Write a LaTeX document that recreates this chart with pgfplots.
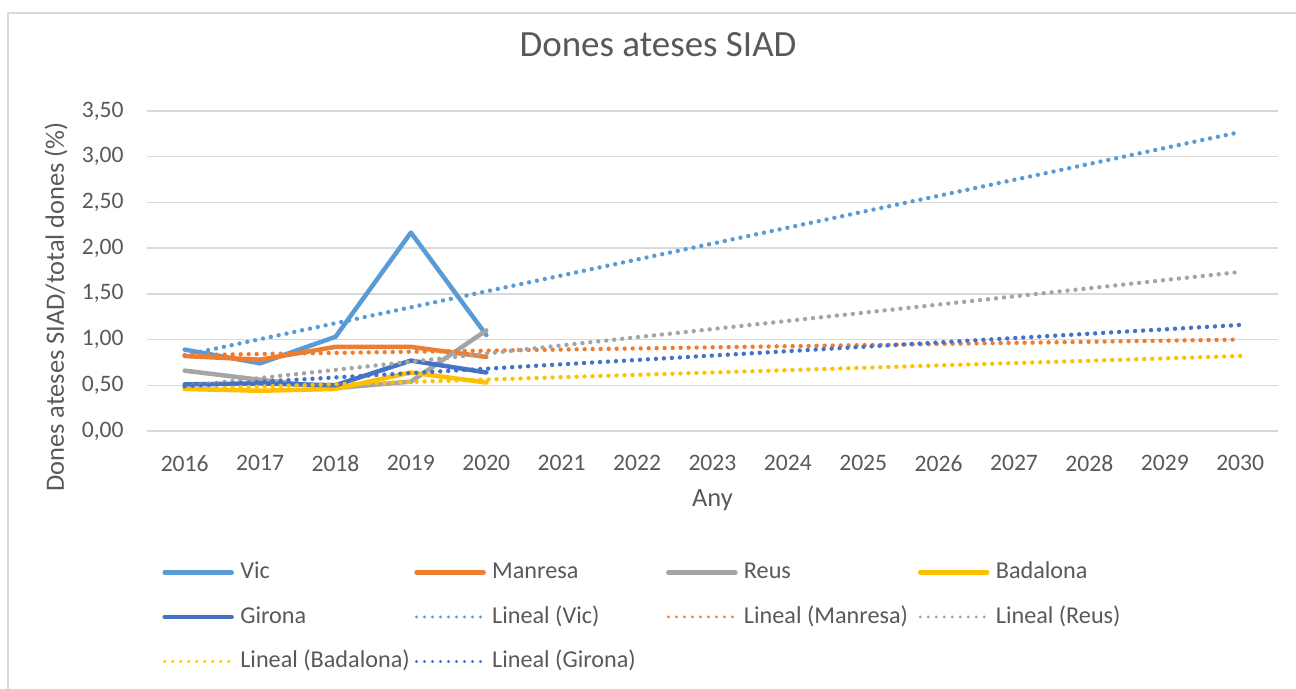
\documentclass[border=0pt]{standalone}
\usepackage{fontspec}
\setmainfont{Carlito}
\usepackage{pgfplots}
\usepackage{pgfplotstable}
\pgfplotsset{compat=1.18}

\definecolor{txt}{HTML}{595959}
\definecolor{grid}{HTML}{D9D9D9}
\definecolor{cVic}{HTML}{5B9BD5}
\definecolor{cMan}{HTML}{ED7D31}
\definecolor{cReu}{HTML}{A5A5A5}
\definecolor{cBad}{HTML}{FFC000}
\definecolor{cGir}{HTML}{4472C4}

% percentatge de dones ateses pel SIAD
\pgfplotstableread{
any  vic  manresa reus badalona girona
2016 0.89 0.82    0.66 0.46     0.51
2017 0.74 0.78    0.56 0.44     0.52
2018 1.03 0.92    0.47 0.46     0.50
2019 2.17 0.92    0.54 0.64     0.77
2020 1.05 0.81    1.10 0.53     0.64
}\dades
% tendencia lineal (extrems llegits del grafic)
\pgfplotstableread{
any  vic  manresa reus badalona girona
2016 0.83 0.83    0.49 0.46     0.49
2030 3.27 1.00    1.74 0.82     1.16
}\tendencia

\pgfplotsset{
  solida/.style={line width=2.25pt,line cap=round,line join=round,
    legend image code/.code={\draw[line width=2.25pt,line cap=round,##1] (1pt,0pt) -- (34.5pt,0pt);}},
  punts/.style={line width=2.2pt,line cap=round,dash pattern=on 0pt off 4pt,
    legend image code/.code={\draw[##1,line width=1.6pt,line cap=round,dash pattern=on 0pt off 4pt] (1pt,0pt) -- (35.5pt,0pt);}},
}
\newcommand{\ent}[1]{\makebox[89.5pt][l]{\hspace{2.5pt}#1}}

\begin{document}
\begin{tikzpicture}
\useasboundingbox (0pt,0pt) rectangle (648pt,344.5pt);
\draw[grid,line width=0.75pt] (4pt,0pt) -- (4pt,338pt) -- (648pt,338pt);
\begin{axis}[
  at={(73.5pt,129pt)},anchor=south west,
  scale only axis,width=565.5pt,height=160pt,
  xmin=2015.5,xmax=2030.5,ymin=0,ymax=3.5,
  xtick={2016,...,2030},
  ytick={0,0.5,...,3.5},
  major tick length=0pt,
  axis lines*=left,
  x axis line style={draw=grid,line width=0.75pt,-},
  y axis line style={draw=none},
  ymajorgrids,major grid style={draw=grid,line width=0.75pt},
  clip=false,
  font=\fontsize{11.8}{14}\selectfont,
  every tick label/.append style={text=txt},
  xticklabel style={anchor=north,inner sep=0pt,yshift=-12pt,
    /pgf/number format/1000 sep={},/pgf/number format/assume math mode=true},
  yticklabel style={anchor=east,inner sep=0pt,xshift=-11.5pt,
    /pgf/number format/.cd,fixed,fixed zerofill,precision=2,use comma,
    assume math mode=true},
  title={Dones ateses SIAD},
  title style={at={(axis description cs:0.4518,1.169)},anchor=center,
    font=\fontsize{18.5}{22}\selectfont,text=txt,inner sep=0pt},
  xlabel={Any},
  xlabel style={at={(axis description cs:0.5,-0.2156)},anchor=center,
    font=\fontsize{13.2}{16}\selectfont,text=txt,inner sep=0pt},
  ylabel={Dones ateses SIAD/total dones (\%)},
  ylabel style={at={(axis description cs:-0.0805,0.3875)},anchor=center,
    font=\fontsize{13.2}{16}\selectfont,text=txt,inner sep=0pt},
  legend columns=4,
  legend cell align=left,
  legend style={at={(axis description cs:0.0133,-0.58125)},anchor=west,
    draw=none,fill=none,inner sep=0pt,text=txt,
    font=\fontsize{12.1}{14}\selectfont,
    row sep=10.75pt,column sep=0pt,
    nodes={inner sep=0pt,text height=9pt,text depth=2.5pt}},
]
\addplot[solida,cVic] table[x=any,y=vic] {\dades};
\addplot[solida,cMan] table[x=any,y=manresa] {\dades};
\addplot[solida,cReu] table[x=any,y=reus] {\dades};
\addplot[solida,cBad] table[x=any,y=badalona] {\dades};
\addplot[solida,cGir] table[x=any,y=girona] {\dades};
\addplot[punts,cVic] table[x=any,y=vic] {\tendencia};
\addplot[punts,cMan] table[x=any,y=manresa] {\tendencia};
\addplot[punts,cReu] table[x=any,y=reus] {\tendencia};
\addplot[punts,cBad] table[x=any,y=badalona] {\tendencia};
\addplot[punts,cGir] table[x=any,y=girona] {\tendencia};
\legend{\ent{Vic},\ent{Manresa},\ent{Reus},\ent{Badalona},\ent{Girona},
  \ent{Lineal (Vic)},\ent{Lineal (Manresa)},\ent{Lineal (Reus)},
  \ent{Lineal (Badalona)},\ent{Lineal (Girona)}}
\end{axis}
\end{tikzpicture}
\end{document}
